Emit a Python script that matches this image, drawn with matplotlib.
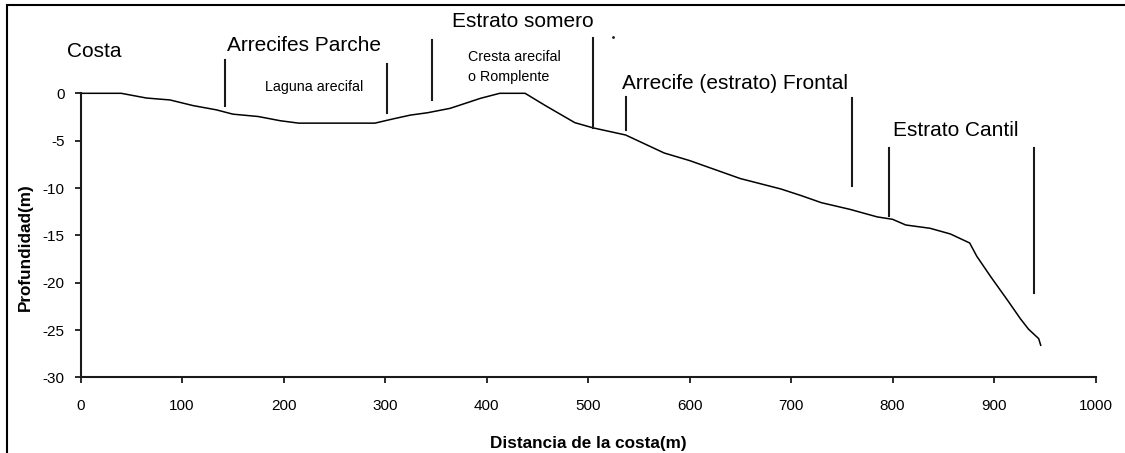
import matplotlib
matplotlib.use("Agg")
import matplotlib.pyplot as plt
from matplotlib import font_manager
from matplotlib.patches import Rectangle


# Perfil de profundidad (distancia desde la costa en m, profundidad en m)
dist = [0, 40, 65, 88, 111, 134, 150, 175, 197, 215, 290, 308, 325, 342, 364,
        374, 394, 413, 438, 458, 487, 505, 537, 575, 600, 650, 690, 710, 730,
        758, 785, 800, 813, 837, 857, 876, 883, 897, 913, 926, 934, 944, 946]
depth = [0, 0, -0.5, -0.7, -1.3, -1.75, -2.2, -2.45, -2.9, -3.15, -3.15, -2.7,
         -2.3, -2.05, -1.59, -1.24, -0.53, 0, 0, -1.3, -3.1, -3.65, -4.4, -6.3,
         -7.1, -9.0, -10.1, -10.8, -11.55, -12.25, -13.05, -13.3, -13.9, -14.25,
         -14.85, -15.8, -17.2, -19.4, -21.8, -23.8, -24.9, -25.9, -26.6]

x_ticks = list(range(0, 1001, 100))
y_ticks = list(range(-30, 1, 5))

# lineas verticales que separan las zonas
zone_x = [142.4, 302.3, 345.8, 505, 537, 759.8, 796.8, 939.4]
zone_top = [3.5, 3.1, 5.6, 5.8, -0.4, -0.5, -5.8, -5.8]
zone_bot = [-1.35, -2.1, -0.7, -3.7, -3.9, -9.8, -13.0, -21.1]

big_labels = ["Costa", "Arrecifes Parche", "Estrato somero",
              "Arrecife (estrato) Frontal", "Estrato Cantil"]
big_x = [-13.6, 144, 365.7, 533.2, 800.8]
big_y = [4.39, 5.0, 7.56, 1.06, -3.88]

small_labels = ["Laguna arecifal", "Cresta arecifal", "o Romplente"]
small_x = [181.8, 382, 382]
small_y = [0.63, 3.86, 1.69]


def has_font(name):
    try:
        font_manager.findfont(name, fallback_to_default=False)
        return True
    except ValueError:
        return False


if has_font("Liberation Sans Narrow"):
    narrow, k = "Liberation Sans Narrow", 1.0
else:
    narrow, k = "Liberation Sans", 0.82

plt.rcParams['font.family'] = ['Liberation Sans', 'DejaVu Sans']
plt.rcParams['axes.unicode_minus'] = False

fig = plt.figure(figsize=(11.25, 4.53), dpi=100)
ax = fig.add_axes([0.0716, 0.1667, 0.9022, 0.8333])

ax.plot(dist, depth, color="black", lw=1.1, clip_on=False)

for x, t, b in zip(zone_x, zone_top, zone_bot):
    ax.plot([x, x], [b, t], color="#1a1a1a", lw=1.5, clip_on=False)
ax.plot([525], [5.98], ".", color="#1a1a1a", ms=2, clip_on=False)

for s, x, y in zip(big_labels, big_x, big_y):
    ax.text(x, y, s, fontsize=15, ha="left", va="center", clip_on=False)
for s, x, y in zip(small_labels, small_x, small_y):
    ax.text(x, y, s, fontsize=12.5 * k, family=narrow, ha="left",
            va="center", clip_on=False)

ax.set_xlim(0, 1000)
ax.set_ylim(-30, 9.85)
ax.set_xticks(x_ticks)
ax.set_yticks(y_ticks)
ax.spines["top"].set_visible(False)
ax.spines["right"].set_visible(False)
ax.spines["left"].set_bounds(-30, 0)
for sp in ("left", "bottom"):
    ax.spines[sp].set_linewidth(1.5)
    ax.spines[sp].set_color("#1a1a1a")
ax.tick_params(direction="out", length=4.5, width=1.3, color="#1a1a1a",
               labelsize=11)
ax.tick_params(axis="x", pad=11)
ax.tick_params(axis="y", pad=7)

fig.text(0.5225, 0.022, "Distancia de la costa(m)", fontsize=15 * k,
         family=narrow, fontweight="bold", ha="center", va="center")
fig.text(0.0222, 0.4554, "Profundidad(m)", fontsize=15 * k, family=narrow,
         fontweight="bold", rotation=90, ha="center", va="center")

# marco exterior
fig.patches.append(Rectangle((7 / 1125, -0.05), 1.1, 1 - 5.3 / 453 + 0.05,
                             transform=fig.transFigure, fill=False,
                             edgecolor="black", lw=1.5))

fig.savefig("out.png", dpi=100)
